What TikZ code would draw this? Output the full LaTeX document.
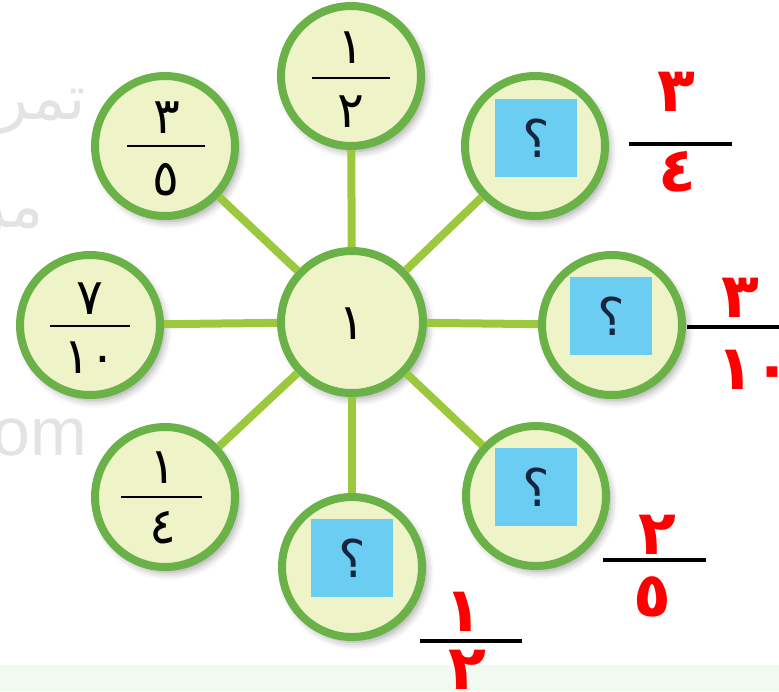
\documentclass[tikz,border=0pt]{standalone}
\usepackage{fontspec}
\setmainfont{DejaVu Sans}
\newfontfamily\arabicfont[Script=Arabic]{DejaVu Sans}
\newfontfamily\latinfont{Liberation Sans}
\TeXXeTstate=1
\usetikzlibrary{shadows.blur}

\definecolor{ringgreen}{RGB}{106,178,72}
\definecolor{discfill}{RGB}{238,243,200}
\definecolor{spokegreen}{RGB}{156,200,62}
\definecolor{boxblue}{RGB}{108,205,242}
\definecolor{marknavy}{RGB}{22,38,66}
\definecolor{handred}{RGB}{255,0,0}
\definecolor{stripgreen}{RGB}{242,249,240}

\tikzstyle{disc}=[circle,draw=ringgreen,fill=discfill,line width=8pt,minimum size=140pt,inner sep=0pt,blur shadow={shadow xshift=4pt,shadow yshift=-5pt,shadow opacity=40,shadow blur radius=8pt}]
\tikzstyle{spoke} = [draw,line width=8pt,spokegreen]
\tikzstyle{digit}=[inner sep=0pt,font=\arabicfont\fontsize{50}{54}\selectfont]
\tikzstyle{bar} = [draw,line width=1.6pt]
\tikzstyle{blank}=[fill=boxblue,minimum width=82pt,minimum height=78pt,inner sep=0pt,text=marknavy,font=\arabicfont\fontsize{52}{54}\selectfont]
\tikzstyle{answer}=[inner sep=0pt,text=handred,font=\arabicfont\bfseries\fontsize{62}{64}\selectfont]
\tikzstyle{answer bar} = [draw,line width=4pt]
\tikzstyle{watermark}=[inner sep=0pt,text=black!11]

\begin{document}
\begin{tikzpicture}[x=1pt,y=-1pt]
		\useasboundingbox (0,0) rectangle (779,691);
		\fill[stripgreen] (0,665) rectangle (779,691);
		% faint watermark behind the picture
		\node[watermark,font=\arabicfont\fontsize{62}{62}\selectfont] (wm a) at (42,112) {\beginR تمر\endR};
		\node[watermark,font=\arabicfont\fontsize{62}{62}\selectfont] (wm b) at (10,226) {\beginR مر\endR};
		\node[watermark,font=\latinfont\fontsize{68}{68}\selectfont,anchor=west] (wm c) at (-8,438) {om};
		% the discs
		\node[disc,minimum size=142pt] (hub) at (352,322) {};
		\node[disc] (top) at (351,76) {};
		\node[disc] (tl) at (165,146) {};
		\node[disc] (tr) at (535,146) {};
		\node[disc] (lt) at (90,325) {};
		\node[disc] (rt) at (612,325) {};
		\node[disc] (bl) at (165,497) {};
		\node[disc] (br) at (536,496) {};
		\node[disc] (bt) at (352,567) {};
		% spokes from the hub
		\foreach \dest in {top,tl,tr,lt,rt,bl,br,bt}
		\path[spoke] (hub) to (\dest);
		% fractions in the discs
		\node[digit] (hub num) at (352,324) {١};
		\node[digit] (top num) at (351,48) {١};
		\draw[bar] (312,78) -- (390,78);
		\node[digit] (top den) at (351,112) {٢};
		\node[digit] (tl num) at (167,118) {٣};
		\draw[bar] (127,146) -- (205,146);
		\node[digit] (tl den) at (166,180) {٥};
		\node[digit] (lt num) at (90,299) {٧};
		\draw[bar] (50,326) -- (130,326);
		\node[digit] (lt den) at (90,358) {١٠};
		\node[digit] (bl num) at (163,468) {١};
		\draw[bar] (121,497) -- (202,497);
		\node[digit] (bl den) at (163,528) {٤};
		% empty boxes
		\node[blank] (tr box) at (536,138) {؟};
		\node[blank] (rt box) at (611,316) {؟};
		\node[blank] (br box) at (536,487) {؟};
		\node[blank] (bt box) at (352,558) {؟};
		% answers written in red
		\node[answer] (tr ans num) at (676,92) {٣};
		\path[answer bar] (629,144) -- (732,144);
		\node[answer] (tr ans den) at (677,172) {٤};
		\node[answer] (rt ans num) at (740,298) {٣};
		\path[answer bar] (687,327) -- (779,327);
		\node[answer] (rt ans den) at (754,370) {١٠};
		\node[answer] (br ans num) at (657,535) {٢};
		\path[answer bar] (603,560) -- (706,560);
		\node[answer] (br ans den) at (652,597) {٥};
		\node[answer] (bt ans num) at (463,612) {١};
		\path[answer bar] (420,641) -- (522,641);
		\node[answer] (bt ans den) at (467,670) {٢};
		\end{tikzpicture}
\end{document}
